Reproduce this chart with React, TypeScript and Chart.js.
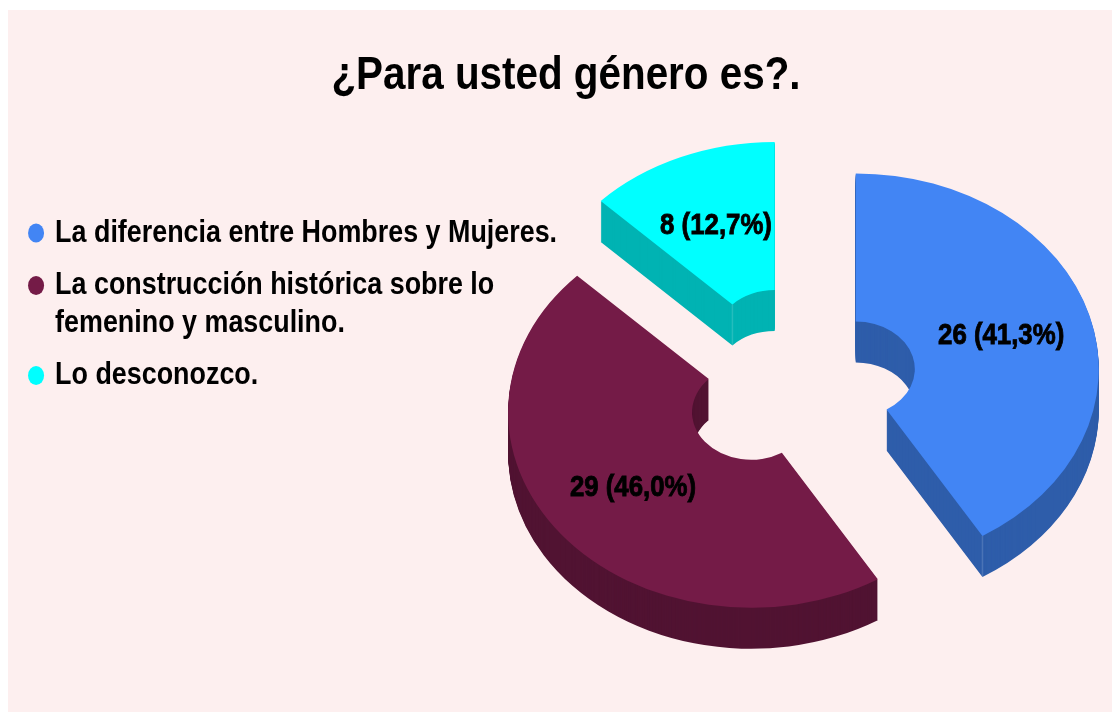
import React, { useEffect, useRef } from "react";
import { Chart, registerables } from "chart.js";

Chart.register(...registerables);

const titleText = "¿Para usted género es?.";
const categories = [
  "La diferencia entre Hombres y Mujeres.",
  "La construcción histórica sobre lo femenino y masculino.",
  "Lo desconozco.",
];
const legendLines = [
  ["La diferencia entre Hombres y Mujeres."],
  ["La construcción histórica sobre lo", "femenino y masculino."],
  ["Lo desconozco."],
];
const values = [26, 29, 8];
const valueLabels = ["26 (41,3%)", "29 (46,0%)", "8 (12,7%)"];
const topColors = ["#4285f4", "#741b47", "#00ffff"];
const wallColors = ["#2e5daa", "#511332", "#00b3b3"];
const seamEdges = ["end", "start", "start"];
const seamRings = ["outer", "outer", "inner"];

const BG = "#fdefef";
const FONT = "'Liberation Sans', sans-serif";
const SQUASH = 0.805;
const DEPTH = 41;
const EXPLODE = 60;
const TITLE_SX = 0.878;
const TITLE_ANCHOR = 558;
const LEGEND_SX = 0.84;
const LABEL_SX = 0.86;

function narrowBox(box: any, ctx: any, sx: number, anchor: number) {
  if (box.__narrowed) return;
  box.__narrowed = true;
  const draw = box.draw.bind(box);
  box.draw = (area: any) => {
    ctx.save();
    ctx.translate(anchor, 0);
    ctx.scale(sx, 1);
    ctx.translate(-anchor, 0);
    draw(area);
    ctx.restore();
  };
}

const pie3d = {
  id: "pie3d",
  afterLayout(chart: any) {
    const { ctx } = chart;
    chart.legend.left = 11.7;
    chart.legend.right = 700;
    chart.legend.top = 192;
    chart.legend.bottom = 640;
    narrowBox(chart.legend, ctx, LEGEND_SX, 0);
    narrowBox(chart.titleBlock, ctx, TITLE_SX, TITLE_ANCHOR);
  },
  beforeDatasetDraw(chart: any, args: any) {
    const { ctx } = chart;
    const arcs = args.meta.data;
    arcs.forEach((el: any, i: number) => {
      const mid = (el.startAngle + el.endAngle) / 2;
      const ox = Math.cos(mid) * EXPLODE;
      const oy = Math.sin(mid) * EXPLODE * SQUASH;
      const place = (dy: number) => {
        ctx.translate(el.x + ox, el.y + oy + dy);
        ctx.scale(1, SQUASH);
        ctx.translate(-el.x, -el.y);
      };
      ctx.fillStyle = wallColors[i];
      for (let dy = DEPTH; dy >= 1; dy--) {
        ctx.save();
        place(dy);
        ctx.beginPath();
        ctx.arc(el.x, el.y, el.outerRadius, el.startAngle, el.endAngle);
        ctx.arc(el.x, el.y, el.innerRadius, el.endAngle, el.startAngle, true);
        ctx.closePath();
        ctx.fill();
        ctx.restore();
      }
      const angle = seamEdges[i] === "end" ? el.endAngle : el.startAngle;
      const radius = seamRings[i] === "outer" ? el.outerRadius : el.innerRadius;
      const sx = el.x + ox + Math.cos(angle) * radius;
      const sy = el.y + oy + Math.sin(angle) * radius * SQUASH;
      ctx.strokeStyle = "rgba(255,255,255,0.14)";
      ctx.lineWidth = 1.5;
      ctx.beginPath();
      ctx.moveTo(sx, sy);
      ctx.lineTo(sx, sy + DEPTH);
      ctx.stroke();
      ctx.save();
      place(0);
      el.draw(ctx);
      ctx.restore();
    });
    return false;
  },
  afterDatasetsDraw(chart: any) {
    const { ctx } = chart;
    const arcs = chart.getDatasetMeta(0).data;
    ctx.save();
    ctx.font = `bold 30px ${FONT}`;
    ctx.fillStyle = "#000";
    ctx.strokeStyle = "#000";
    ctx.lineWidth = 0.9;
    ctx.textAlign = "center";
    ctx.textBaseline = "middle";
    arcs.forEach((el: any, i: number) => {
      const mid = (el.startAngle + el.endAngle) / 2;
      const r = (el.innerRadius + el.outerRadius) / 2 + EXPLODE;
      const x = el.x + Math.cos(mid) * r;
      const y = el.y + Math.sin(mid) * r * SQUASH;
      ctx.save();
      ctx.translate(x, y);
      ctx.scale(LABEL_SX, 1);
      ctx.fillText(valueLabels[i], 0, 0);
      ctx.strokeText(valueLabels[i], 0, 0);
      ctx.restore();
    });
    ctx.restore();
  },
};

export default function App() {
  const ref = useRef<HTMLCanvasElement>(null);
  useEffect(() => {
    const chart = new Chart(ref.current as HTMLCanvasElement, {
      type: "doughnut",
      data: {
        labels: categories,
        datasets: [{ data: values, backgroundColor: topColors, borderWidth: 0 }],
      },
      options: {
        responsive: false,
        animation: false,
        radius: 243,
        cutout: "24.3%",
        layout: { padding: { left: 12, right: 0, top: 0, bottom: 58 } },
        plugins: {
          tooltip: { enabled: false },
          title: {
            display: true,
            text: titleText,
            color: "#000",
            font: { family: FONT, size: 46, weight: "bold" },
            padding: { top: 39, bottom: 6 },
          },
          legend: {
            position: "left",
            align: "start",
            maxWidth: 464,
            labels: {
              color: "#000",
              font: { family: FONT, size: 32, weight: "bold", lineHeight: "37.5px" },
              usePointStyle: true,
              pointStyle: "circle",
              boxWidth: 13.4,
              boxHeight: 13.5,
              padding: 15,
              generateLabels: () =>
                legendLines.map((text, i) => ({
                  text,
                  fillStyle: topColors[i],
                  strokeStyle: topColors[i],
                  lineWidth: 0,
                  pointStyle: "circle",
                  index: i,
                })),
            },
          },
        },
      } as any,
      plugins: [pie3d],
    });
    return () => chart.destroy();
  }, []);
  return (
    <canvas
      ref={ref}
      width={1104}
      height={702}
      style={{ position: "absolute", left: 8, top: 10, width: 1104, height: 702, background: BG, display: "block", filter: "blur(0.6px)" }}
    />
  );
}
